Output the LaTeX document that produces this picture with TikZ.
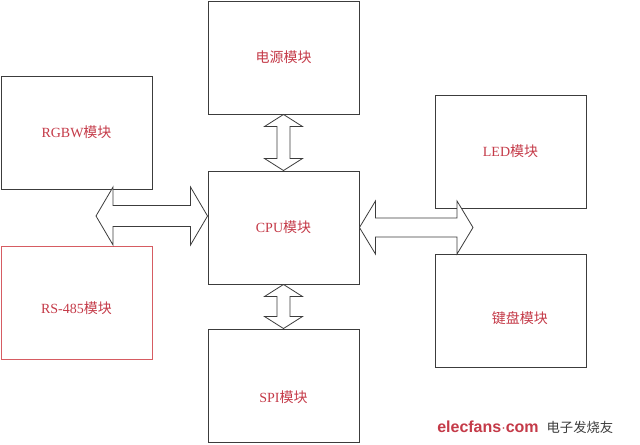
\documentclass[tikz,border=0pt]{standalone}
\usepackage{fontspec}
\setmainfont{Liberation Serif}
\newfontfamily\cjk{Noto Sans CJK SC}
\newfontfamily\logofont{Liberation Sans}
\usetikzlibrary{calc}

\definecolor{txtred}{RGB}{196,58,72}
\definecolor{boxred}{RGB}{214,92,98}
\definecolor{boxgrey}{RGB}{60,60,60}

% double arrow between two points: A, B, shaft half width, head half width, head length
\newcommand\dblbus[5]{%
  \draw[boxgrey, fill=white, line width=0.6pt, line join=miter]
    (#1) -- ($(#1)!#5!(#2)!#4!90:(#2)$) -- ($(#1)!#5!(#2)!#3!90:(#2)$)
    -- ($(#2)!#5!(#1)!#3!-90:(#1)$) -- ($(#2)!#5!(#1)!#4!-90:(#1)$)
    -- (#2) -- ($(#2)!#5!(#1)!#4!90:(#1)$) -- ($(#2)!#5!(#1)!#3!90:(#1)$)
    -- ($(#1)!#5!(#2)!#3!-90:(#2)$) -- ($(#1)!#5!(#2)!#4!-90:(#2)$) -- cycle;}

\tikzset{
  block/.style={draw=boxgrey, line width=0.7pt, minimum width=113.25pt,
    minimum height=84.75pt, inner sep=0pt, text=txtred,
    font=\fontsize{10.5}{12}\selectfont},
  lbl/.style={text=txtred, font=\fontsize{10.5}{12}\selectfont}
}

\begin{document}
\begin{tikzpicture}[x=0.75pt, y=-0.75pt]
  \useasboundingbox (0,0) rectangle (640,444);

  % Modules
  \node[block] (pwr) at (283.5,57.5) {{\cjk 电源模块}};
  \node[block] (cpu) at (283.5,227.5) {CPU{\cjk 模块}};
  \node[block, label={[lbl, yshift=-9pt]center:SPI{\cjk 模块}}] (spi) at (283.5,385.5) {};
  \node[block] (rgbw) at (76.5,132.5) {RGBW{\cjk 模块}};
  \node[block, draw=boxred, label={[lbl, yshift=-4pt]center:RS-485{\cjk 模块}}] (rs) at (76.5,303) {};
  \node[block] (led) at (510.5,151.5) {LED{\cjk 模块}};
  \node[block, label={[lbl, xshift=7pt, yshift=-6pt]center:{\cjk 键盘模块}}] (key) at (510.5,310.5) {};

  % Free ends of the side buses
  \coordinate (lbus) at (96,216);
  \coordinate (lcpu) at ($(cpu.west)+(0,-11.5)$);
  \coordinate (rbus) at (473,227.5);

  % Buses
  \dblbus{pwr.south}{cpu.north}{4.9pt}{14.2pt}{9pt}
  \dblbus{cpu.south}{spi.north}{4.9pt}{14.2pt}{9pt}
  \dblbus{lbus}{lcpu}{7.9pt}{21.8pt}{12.8pt}
  \dblbus{cpu.east}{rbus}{7.1pt}{19.9pt}{12pt}

  % Watermark
  \node[anchor=west, inner sep=0pt] (logo) at (437,427)
    {{\logofont\bfseries\fontsize{12}{14}\selectfont\color{txtred}elecfans$\cdot$com}\hspace{6pt}{\cjk\fontsize{10}{12}\selectfont\color{boxgrey}电子发烧友}};
\end{tikzpicture}
\end{document}
